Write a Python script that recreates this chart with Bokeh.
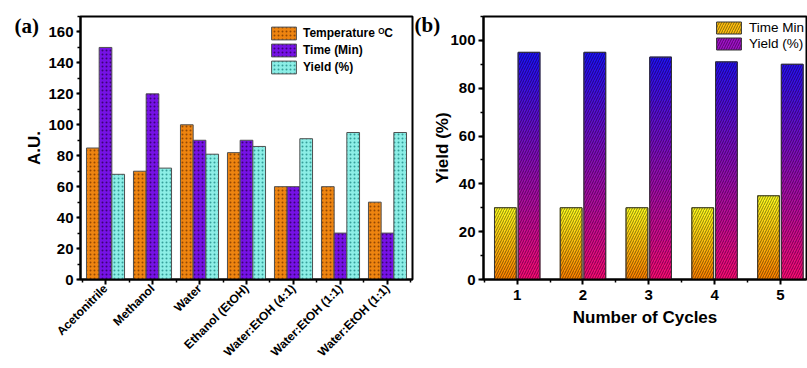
from math import pi
from bokeh.plotting import figure
from bokeh.layouts import row
from bokeh.models import (Range1d, FixedTicker, ColumnDataSource, LinearAxis,
                          Legend, LegendItem)
from bokeh.embed import file_html
from bokeh.resources import INLINE

# ---------------- data ----------------
categories = ["Acetonitrile", "Methanol", "Water", "Ethanol (EtOH)",
              "Water:EtOH (4:1)", "Water:EtOH (1:1)", "Water:EtOH (1:1)"]
temperature = [85, 70, 100, 82, 60, 60, 50]
time_min = [150, 120, 90, 90, 60, 30, 30]
yield_a = [68, 72, 81, 86, 91, 95, 95]
series_a_labels = ["Temperature \u1D3CC", "Time (Min)", "Yield (%)"]

cycles = [1, 2, 3, 4, 5]
time_b = [30, 30, 30, 30, 35]
yield_b = [95, 95, 93, 91, 90]
series_b_labels = ["Time Min", "Yield (%)"]

panel_tags = ["(a)", "(b)"]

FONT = "Liberation Sans"


def style_axes(p):
    p.xgrid.visible = False
    p.ygrid.visible = False
    p.outline_line_color = "black"
    p.outline_line_width = 2
    p.outline_line_alpha = 1
    for ax in (p.xaxis[0], p.yaxis[0]):
        ax.axis_line_width = 2
        ax.axis_line_color = "black"
        ax.major_tick_line_width = 2
        ax.major_tick_in = 0
        ax.major_tick_out = 5
        ax.minor_tick_line_width = 1.5
        ax.minor_tick_in = 0
        ax.minor_tick_out = 3
        ax.major_label_text_font = FONT
        ax.major_label_text_font_style = "bold"
        ax.major_label_text_font_size = "15px"
        ax.major_label_text_color = "black"
        ax.axis_label_text_font = FONT
        ax.axis_label_text_font_style = "bold"
        ax.axis_label_text_font_size = "17px"
        ax.axis_label_text_color = "black"


def tag_axis(p, tag, y_loc):
    # panel tag drawn as the single tick label of a bare right-hand axis
    ax = LinearAxis(ticker=FixedTicker(ticks=[y_loc], minor_ticks=[]),
                    major_label_overrides={y_loc: tag},
                    axis_line_color=None, major_tick_line_color=None,
                    minor_tick_line_color=None, major_tick_out=0, major_tick_in=0,
                    major_label_standoff=2,
                    major_label_text_font="Liberation Serif",
                    major_label_text_font_style="bold",
                    major_label_text_font_size="21px",
                    major_label_text_color="black")
    p.add_layout(ax, "right")


# ---------------- tag holder for (a) ----------------
pz = figure(width=43, height=368, x_range=Range1d(0, 1), y_range=Range1d(0, 170),
            output_backend="svg", toolbar_location=None,
            min_border_left=0, min_border_right=31, min_border_top=16, min_border_bottom=86)
pz.xaxis.visible = False
pz.yaxis.visible = False
pz.xgrid.visible = False
pz.ygrid.visible = False
pz.outline_line_color = None
pz.background_fill_color = None
pz.border_fill_color = None
tag_axis(pz, panel_tags[0], 164)

# ---------------- panel (a) ----------------
pa = figure(width=444, height=368, x_range=Range1d(0.468, 7.532), y_range=Range1d(0, 170),
            output_backend="svg", toolbar_location=None,
            min_border_left=80, min_border_right=32, min_border_top=16, min_border_bottom=86)
pa.margin = (0, 0, 0, -43)
pa.border_fill_color = None
style_axes(pa)
pos_a = list(range(1, len(categories) + 1))
pa.yaxis.ticker = FixedTicker(ticks=list(range(0, 161, 20)), minor_ticks=list(range(0, 171, 10)))
pa.xaxis.ticker = FixedTicker(ticks=pos_a, minor_ticks=[i + 0.5 for i in range(0, 8)])
pa.xaxis.major_label_overrides = {p: c for p, c in zip(pos_a, categories)}
pa.xaxis.major_label_orientation = pi / 4
pa.xaxis.major_label_text_font_size = "12px"
pa.xaxis.major_label_standoff = 2
pa.yaxis.axis_label = "A.U."
pa.yaxis.major_label_standoff = 3
pa.yaxis.major_tick_out = 4
pa.yaxis.axis_label_standoff = 1

bw = 0.27
specs_a = [
    (temperature, -bw, "#EE8410", "#7A3800"),
    (time_min, 0.0, "#7612E6", "#2A0058"),
    (yield_a, bw, "#8CEEE6", "#1E8A86"),
]
items_a = []
for (vals, off, fc, hc), lab in zip(specs_a, series_a_labels):
    src = ColumnDataSource(dict(x=[p + off for p in pos_a], top=vals))
    r = pa.vbar(x="x", top="top", width=bw, source=src, fill_color=fc,
                line_color="#505050", line_width=1,
                hatch_pattern="dot", hatch_scale=4, hatch_weight=3,
                hatch_color=hc, hatch_alpha=0.8)
    items_a.append(LegendItem(label=lab, renderers=[r]))

leg_a = Legend(items=items_a, location=(188, 204), border_line_color=None,
               background_fill_alpha=0, glyph_width=31, glyph_height=16, label_height=16,
               spacing=1, padding=0, margin=0, label_standoff=4,
               label_text_font=FONT, label_text_font_style="bold",
               label_text_font_size="12px", label_text_color="black")
pa.add_layout(leg_a)
# (b) tag sits just right of panel (a)'s frame, at the height of panel (b)'s top
tag_axis(pa, panel_tags[1], 164.2)

# ---------------- panel (b) ----------------
pb = figure(width=393, height=368, x_range=Range1d(0.488, 5.397), y_range=Range1d(0, 110),
            output_backend="svg", toolbar_location=None,
            min_border_left=69, min_border_right=1, min_border_top=15, min_border_bottom=89)
pb.margin = (0, 0, 0, -30)
pb.border_fill_color = None
style_axes(pb)
pb.yaxis.ticker = FixedTicker(ticks=list(range(0, 101, 20)), minor_ticks=list(range(0, 111, 10)))
pb.xaxis.ticker = FixedTicker(ticks=cycles, minor_ticks=[c + 0.5 for c in [0] + cycles])
pb.xaxis.axis_label = "Number of Cycles"
pb.yaxis.axis_label = "Yield (%)"
pb.yaxis.major_label_standoff = 3
pb.yaxis.axis_label_standoff = -5
pb.xaxis.major_label_standoff = 5
pb.xaxis.axis_label_standoff = 5


def lerp(c0, c1, t):
    return "#%02x%02x%02x" % tuple(int(round(a + (b - a) * t)) for a, b in zip(c0, c1))


bwb = 0.33
N = 40
specs_b = [
    (time_b, -0.18, (255, 128, 0), (255, 255, 30), "#FFC010", False),
    (yield_b, 0.18, (255, 10, 118), (16, 16, 255), "#A010C8", True),
]
items_b = []
for (vals, off, c_bot, c_top, mid, absolute), lab in zip(specs_b, series_b_labels):
    xs = [c + off for c in cycles]
    base_src = ColumnDataSource(dict(x=xs, top=vals))
    base = pb.vbar(x="x", top="top", width=bwb, source=base_src, fill_color=mid,
                   line_color="#333333", line_width=1,
                   hatch_pattern="right_diagonal_line", hatch_scale=5, hatch_weight=1,
                   hatch_color="black", hatch_alpha=0.45)
    L, R, B, T, C = [], [], [], [], []
    for x, v in zip(xs, vals):
        for k in range(N):
            b = v * k / N
            t = v * (k + 1) / N
            frac = ((b + t) / 2) / 100.0 if absolute else (k + 0.5) / N
            L.append(x - bwb / 2)
            R.append(x + bwb / 2)
            B.append(b)
            T.append(t)
            C.append(lerp(c_bot, c_top, min(frac, 1.0)))
    pb.quad(left=L, right=R, bottom=B, top=T, fill_color=C, line_color=C, line_width=0.5)
    pb.vbar(x="x", top="top", width=bwb, source=base_src, fill_color=None,
            line_color="#333333", line_width=1,
            hatch_pattern="right_diagonal_line", hatch_scale=5, hatch_weight=1,
            hatch_color="black", hatch_alpha=0.45)
    items_b.append(LegendItem(label=lab, renderers=[base]))

leg_b = Legend(items=items_b, location=(230, 228), border_line_color=None,
               background_fill_alpha=0, glyph_width=31, glyph_height=15, label_height=15,
               spacing=1, padding=0, margin=0, label_standoff=5,
               label_text_font=FONT, label_text_font_style="normal",
               label_text_font_size="13.5px", label_text_color="black")
pb.add_layout(leg_b)

layout = row(pz, pa, pb)
open("out.html", "w").write(file_html(layout, INLINE))
